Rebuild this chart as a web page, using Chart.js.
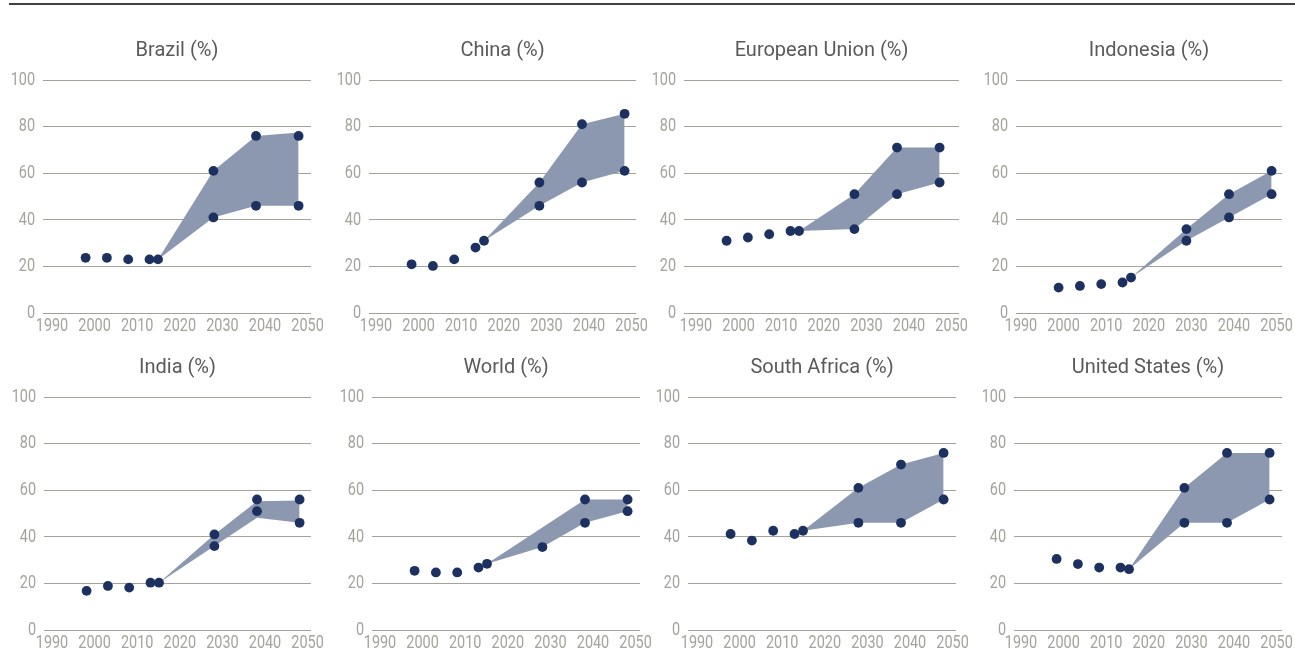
<!DOCTYPE html>
<html><head><meta charset="utf-8">
<script src="https://cdn.jsdelivr.net/npm/chart.js@4.4.0/dist/chart.umd.min.js"></script>
<style>
html,body{margin:0;padding:0;background:#fff;width:1295px;height:656px;overflow:hidden;position:relative}
#rule{position:absolute;left:9px;top:3px;width:1286px;height:2px;background:#404040}
canvas.panel{position:absolute}
</style></head><body>
<div id="rule"></div>
<script>
// ---- data ----
const xTickLabels = [1990, 2000, 2010, 2020, 2030, 2040, 2050];
const yTickLabels = [0, 20, 40, 60, 80, 100];
const histYears = [2000, 2005, 2010, 2015, 2017];
const projYears = [2030, 2040, 2050];

const brazilHist = [23.7, 23.7, 23.0, 23.0, 23.0];
const brazilHigh = [61, 76, 76];
const brazilLow = [41, 46, 46];
const brazilBandHigh = [61, 76, 77.5];

const chinaHist = [20.9, 20.2, 23.0, 28.1, 31.0];
const chinaHigh = [56, 81, 85.5];
const chinaLow = [46, 56, 61];

const euHist = [31.0, 32.4, 33.8, 35.2, 35.2];
const euHigh = [51, 71, 71];
const euLow = [36, 51, 56];

const indonesiaHist = [10.9, 11.6, 12.4, 13.1, 15.2];
const indonesiaHigh = [36, 51, 61];
const indonesiaLow = [31, 41, 51];

const indiaHist = [16.8, 18.9, 18.2, 20.3, 20.3];
const indiaHigh = [41, 56, 56];
const indiaLow = [36, 51, 46];
const indiaBandHigh = [41, 55.3, 55.6];
const indiaBandLow = [36, 48.2, 46];

const worldHist = [25.4, 24.7, 24.7, 26.8, 28.4];
const worldHigh = [null, 56, 56];
const worldLow = [35.6, 46, 51];

const southAfricaHist = [41.2, 38.4, 42.6, 41.2, 42.6];
const southAfricaHigh = [61, 71, 76];
const southAfricaLow = [46, 46, 56];

const usHist = [30.5, 28.3, 26.8, 26.8, 26.1];
const usHigh = [61, 76, 76];
const usLow = [46, 46, 56];

const panelTitles = ['Brazil (%)', 'China (%)', 'European Union (%)', 'Indonesia (%)',
                     'India (%)', 'World (%)', 'South Africa (%)', 'United States (%)'];

// ---- table built from the arrays ----
const panelData = [
  {hist: brazilHist, high: brazilHigh, low: brazilLow, bandHigh: brazilBandHigh, bandLow: brazilLow},
  {hist: chinaHist, high: chinaHigh, low: chinaLow, bandHigh: chinaHigh, bandLow: chinaLow},
  {hist: euHist, high: euHigh, low: euLow, bandHigh: euHigh, bandLow: euLow},
  {hist: indonesiaHist, high: indonesiaHigh, low: indonesiaLow, bandHigh: indonesiaHigh, bandLow: indonesiaLow},
  {hist: indiaHist, high: indiaHigh, low: indiaLow, bandHigh: indiaBandHigh, bandLow: indiaBandLow},
  {hist: worldHist, high: worldHigh, low: worldLow, bandHigh: worldHigh, bandLow: worldLow},
  {hist: southAfricaHist, high: southAfricaHigh, low: southAfricaLow, bandHigh: southAfricaHigh, bandLow: southAfricaLow},
  {hist: usHist, high: usHigh, low: usLow, bandHigh: usHigh, bandLow: usLow}
];

// ---- layout (plot area in page pixels) ----
const panelLayout = [
  {top: 25, left: 43, right: 311, labelOffset: 9},
  {top: 25, left: 369, right: 636, labelOffset: 7},
  {top: 25, left: 684, right: 959, labelOffset: 12},
  {top: 25, left: 1016, right: 1282, labelOffset: 5},
  {top: 342, left: 44, right: 311, labelOffset: 8},
  {top: 342, left: 372, right: 640, labelOffset: 8},
  {top: 342, left: 688, right: 956, labelOffset: 9},
  {top: 342, left: 1014, right: 1282, labelOffset: 7}
];
const PX_PER_YEAR = 4.26;
const Y_AXIS_W = 44, X_AXIS_H = 29, RIGHT_PAD = 16, PANEL_H = 317;
const TICK_SCALE_X = 0.76;

const DOT = '#1c3160';
const BAND = 'rgba(140,152,175,1)';
const GRID = '#a3a39a';
const TICK = '#a4a49c';
const TITLE = '#5a5a5a';
const tickFont = {family: 'Roboto', size: 19, weight: 'normal', lineHeight: 1.2};

// draw tick labels in a narrow (condensed) form, like the source's condensed face
function condenseLabels(scale) {
  if (scale.$condensed) return;
  scale.$condensed = true;
  const orig = scale.drawLabels;
  scale.drawLabels = function (area) {
    const ctx = this.ctx;
    const ft = CanvasRenderingContext2D.prototype.fillText;
    ctx.fillText = function (t, x, y) {
      ctx.save(); ctx.translate(x, y); ctx.scale(TICK_SCALE_X, 1);
      ft.call(ctx, t, 0, 0); ctx.restore();
    };
    try { orig.call(this, area); } finally { delete ctx.fillText; }
  };
}

function pts(years, vals) {
  const out = [];
  years.forEach((y, i) => { if (vals[i] !== null && vals[i] !== undefined) out.push({x: y, y: vals[i]}); });
  return out;
}

panelData.forEach((d, i) => {
  const L = panelLayout[i];
  const cv = document.createElement('canvas');
  cv.className = 'panel';
  const w = Y_AXIS_W + (L.right - L.left) + RIGHT_PAD;
  cv.width = w; cv.height = PANEL_H;
  cv.style.left = (L.left - Y_AXIS_W) + 'px';
  cv.style.top = L.top + 'px';
  cv.style.width = w + 'px'; cv.style.height = PANEL_H + 'px';
  document.body.appendChild(cv);

  const start = {x: histYears[histYears.length - 1], y: d.hist[d.hist.length - 1]};
  const dotStyle = {showLine: false, pointRadius: 4.9, pointHoverRadius: 4.9, pointBackgroundColor: DOT,
                    pointBorderWidth: 0, borderColor: DOT, order: 0};
  const xMax = 1990 + (L.right - L.left) / PX_PER_YEAR;

  new Chart(cv, {
    type: 'line',
    data: {
      datasets: [
        Object.assign({label: 'history', data: pts(histYears, d.hist)}, dotStyle),
        Object.assign({label: 'high', data: pts(projYears, d.high)}, dotStyle),
        Object.assign({label: 'low', data: pts(projYears, d.low)}, dotStyle),
        {label: 'bandLow', data: [start].concat(pts(projYears, d.bandLow)), borderWidth: 0,
         borderColor: 'rgba(0,0,0,0)', pointRadius: 0, fill: false, order: 5, tension: 0},
        {label: 'bandHigh', data: [start].concat(pts(projYears, d.bandHigh)), borderWidth: 0,
         borderColor: 'rgba(0,0,0,0)', pointRadius: 0, fill: 3, backgroundColor: BAND, order: 4, tension: 0}
      ]
    },
    options: {
      responsive: false, animation: false, devicePixelRatio: 1,
      events: [],
      layout: {padding: {left: 0, right: RIGHT_PAD, top: 0, bottom: 0}},
      plugins: {
        legend: {display: false}, tooltip: {enabled: false},
        title: {display: true, text: panelTitles[i], color: TITLE, fullSize: false,
                font: {family: 'Roboto', size: 20, weight: 'normal', lineHeight: 1.2},
                padding: {top: 14, bottom: 17}}
      },
      scales: {
        x: {
          type: 'linear', min: 1990, max: xMax,
          afterBuildTicks: s => { s.ticks = xTickLabels.map(v => ({value: v})); },
          afterFit: s => { s.height = X_AXIS_H; },
          afterUpdate: s => condenseLabels(s),
          grid: {display: false, drawTicks: false},
          border: {display: false},
          ticks: {autoSkip: false, maxRotation: 0, minRotation: 0, labelOffset: L.labelOffset, padding: 2,
                  color: TICK, font: tickFont, callback: v => String(v)}
        },
        y: {
          min: 0, max: 100,
          afterBuildTicks: s => { s.ticks = yTickLabels.map(v => ({value: v})); },
          afterFit: s => { s.width = Y_AXIS_W; },
          afterUpdate: s => condenseLabels(s),
          grid: {color: GRID, lineWidth: 1, drawTicks: false},
          border: {display: false},
          ticks: {padding: 8, color: TICK, font: tickFont, callback: v => String(v)}
        }
      }
    }
  });
});
</script>
</body></html>
